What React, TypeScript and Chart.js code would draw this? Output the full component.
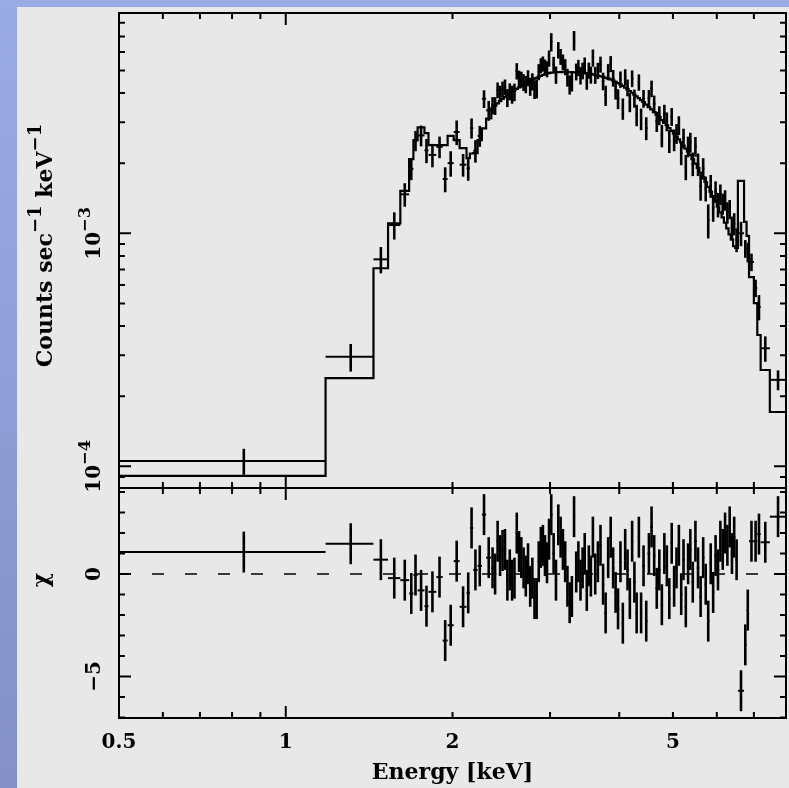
import React, { useEffect, useRef } from 'react';
import { Chart, registerables } from 'chart.js';

Chart.register(...registerables);

// ---------- data ----------
// Energy bin edges [keV]
const binEdges = [
  0.50, 1.18, 1.44, 1.53, 1.61, 1.67, 1.70, 1.73, 1.78, 1.81, 1.87, 1.92, 1.96, 2.01, 2.06, 2.12, 2.15, 2.18, 2.22, 2.26, 2.30, 2.35,
  2.375, 2.400, 2.425, 2.450, 2.475, 2.500, 2.525, 2.550, 2.575, 2.600, 2.625, 2.650, 2.675, 2.700, 2.725, 2.750, 2.775, 2.800, 2.825, 2.850, 2.875, 2.900, 2.925, 2.950, 2.975, 3.000,
  3.03, 3.06, 3.09, 3.12, 3.15, 3.18, 3.21, 3.24, 3.27, 3.30, 3.33, 3.36, 3.39, 3.42, 3.45, 3.48, 3.51, 3.54, 3.57, 3.60,
  3.64, 3.68, 3.72, 3.76, 3.80, 3.84, 3.88, 3.92, 3.96, 4.00, 4.04, 4.08, 4.12, 4.16, 4.20, 4.24, 4.28, 4.32, 4.36, 4.40,
  4.45, 4.50, 4.55, 4.60, 4.65, 4.70, 4.75, 4.80, 4.85, 4.90, 4.95, 5.00, 5.05, 5.10, 5.15, 5.20, 5.25, 5.30, 5.35, 5.40,
  5.46, 5.52, 5.58, 5.64, 5.70, 5.76, 5.82, 5.88, 5.94, 6.00, 6.06, 6.12, 6.18, 6.24, 6.30, 6.36, 6.42,
  6.48, 6.55, 6.72, 6.79, 6.86, 7.00, 7.10, 7.20, 7.48, 8.00,
];

// Count rates, in units of 1e-3 counts sec^-1 keV^-1
const RATE_UNIT = 1e-3;
const rate = [
  0.1054, 0.295, 0.773, 1.085, 1.47, 1.89, 2.50, 2.63, 2.27, 2.17, 2.35, 1.71, 2.00, 2.72, 1.97, 1.90, 2.83, 2.26, 2.62, 3.78, 3.37,
  3.54, 3.53, 4.12, 3.98, 4.15, 4.24, 3.82, 4.06, 3.95, 4.04, 4.97, 4.63, 4.58, 4.45, 4.36, 4.64, 4.27, 4.48, 4.15, 4.18, 4.93, 5.25, 5.34, 5.17, 5.07, 5.64,
  6.63, 5.31, 4.79, 6.12, 5.73, 5.43, 5.18, 4.67, 4.35, 4.47, 6.73, 4.94, 5.14, 4.76, 4.99, 5.27, 4.53, 5.00, 4.79, 5.67,
  4.78, 4.99, 5.31, 4.50, 3.91, 4.93, 5.34, 4.64, 4.13, 3.78, 4.58, 3.43, 4.68, 4.22, 3.66, 4.62, 3.80, 3.22, 4.45, 3.10,
  3.79, 2.83, 3.80, 4.18, 3.59, 3.02, 3.21, 2.63, 3.27, 3.02, 2.49, 3.17, 2.52, 2.68, 2.91, 2.21, 2.56, 1.93, 2.36, 2.46,
  1.99, 2.36, 1.98, 1.59, 1.90, 1.56, 1.14, 1.60, 1.29, 1.51, 1.33, 1.47, 1.34, 1.39, 1.23, 1.27, 1.06,
  1.10, 0.94, 1.00, 0.86, 0.83, 0.753, 0.582, 0.483, 0.321, 0.235,
];
const rateErr = [
  0.0135, 0.040, 0.10, 0.145, 0.17, 0.20, 0.25, 0.27, 0.27, 0.25, 0.25, 0.21, 0.25, 0.33, 0.22, 0.22, 0.28, 0.25, 0.27, 0.33, 0.33,
  0.30, 0.31, 0.32, 0.32, 0.33, 0.33, 0.34, 0.34, 0.35, 0.35, 0.40, 0.36, 0.36, 0.37, 0.37, 0.37, 0.38, 0.38, 0.38, 0.39, 0.39, 0.39, 0.40, 0.40, 0.40, 0.45,
  0.60, 0.41, 0.41, 0.50, 0.45, 0.42, 0.41, 0.41, 0.41, 0.41, 0.65, 0.41, 0.41, 0.41, 0.41, 0.41, 0.40, 0.40, 0.40, 0.48,
  0.40, 0.40, 0.42, 0.39, 0.39, 0.39, 0.42, 0.38, 0.38, 0.37, 0.37, 0.36, 0.38, 0.35, 0.35, 0.38, 0.34, 0.34, 0.36, 0.33,
  0.33, 0.32, 0.32, 0.34, 0.31, 0.30, 0.30, 0.29, 0.29, 0.28, 0.28, 0.28, 0.27, 0.26, 0.27, 0.25, 0.25, 0.24, 0.24, 0.24,
  0.23, 0.23, 0.22, 0.21, 0.20, 0.19, 0.19, 0.18, 0.17, 0.16, 0.16, 0.15, 0.14, 0.14, 0.13, 0.12, 0.12,
  0.12, 0.11, 0.12, 0.075, 0.08, 0.065, 0.05, 0.06, 0.04, 0.023,
];
const model = [
  0.0909, 0.239, 0.708, 1.104, 1.52, 2.08, 2.51, 2.85, 2.69, 2.39, 2.39, 2.39, 2.62, 2.51, 2.32, 2.10, 2.20, 2.21, 2.51, 2.82, 3.11,
  3.45, 3.53, 3.61, 3.69, 3.77, 3.84, 3.92, 3.99, 4.05, 4.11, 4.17, 4.23, 4.29, 4.34, 4.40, 4.45, 4.50, 4.56, 4.61, 4.65, 4.70, 4.74, 4.78, 4.81, 4.85, 4.87,
  4.89, 4.90, 4.91, 4.92, 4.92, 4.93, 4.93, 4.92, 4.92, 4.92, 4.91, 4.90, 4.89, 4.88, 4.87, 4.86, 4.85, 4.84, 4.83, 4.81,
  4.78, 4.75, 4.72, 4.69, 4.65, 4.62, 4.58, 4.53, 4.47, 4.41, 4.36, 4.29, 4.22, 4.15, 4.08, 4.01, 3.94, 3.87, 3.80, 3.73,
  3.66, 3.57, 3.48, 3.40, 3.31, 3.23, 3.15, 3.06, 2.98, 2.91, 2.83, 2.75, 2.68, 2.60, 2.53, 2.46, 2.38, 2.31, 2.24, 2.17,
  2.08, 1.99, 1.91, 1.82, 1.74, 1.66, 1.58, 1.51, 1.44, 1.37, 1.30, 1.23, 1.17, 1.11, 1.05, 0.99, 0.94,
  0.88, 0.865, 1.68, 1.12, 0.975, 0.649, 0.502, 0.366, 0.259, 0.171,
];
// Residuals (data - model) / error
const chi = [
  1.07, 1.48, 0.7, -0.2, -0.3, -0.95, -0.05, -0.8, -1.57, -0.87, -0.15, -3.25, -2.5, 0.63, -1.6, -0.92, 2.25, 0.2, 0.4, 2.9, 0.8,
  0.3, 0.0, 1.6, 0.9, 1.15, 1.2, -0.3, 0.2, -0.3, -0.2, 2.0, 1.1, 0.8, 0.3, -0.1, 0.5, -0.6, -0.2, -1.2, -1.2, 0.6, 1.3, 1.4, 0.9, 0.55, 1.7,
  2.9, 1.0, -0.3, 2.4, 1.8, 1.2, 0.6, -0.6, -1.4, -1.1, 2.8, 0.1, 0.6, -0.3, 0.3, 1.0, -0.8, 0.4, -0.1, 1.8,
  0.0, 0.6, 1.4, -0.5, -1.9, 0.8, 1.8, 0.3, -0.9, -1.7, 0.6, -2.4, 1.2, 0.2, -1.2, 1.6, -0.4, -1.9, 1.8, -1.9,
  0.4, -2.3, 1.0, 2.3, 0.9, -0.7, 0.2, -1.5, 1.0, 0.4, -1.2, 1.5, -0.6, 0.3, 1.4, -1.0, 0.7, -1.6, 0.5, 1.2,
  -0.4, 1.6, 0.3, -1.1, 0.8, -0.5, -2.3, 0.5, -0.9, 0.9, 0.2, 1.6, 1.2, 2.0, 1.4, 2.3, 1.0,
  1.8, 0.7, -5.7, -3.46, -1.76, 1.6, 1.6, 1.95, 1.55, 2.8,
];
const CHI_SIGMA = 1;

// axes
const X_MIN = 0.5, X_MAX = 8.0;
const RATE_MIN = 8.07e-5, RATE_MAX = 8.82e-3;
const CHI_MIN = -7.03, CHI_MAX = 4.2;

const xTickValues = [0.5, 1, 2, 5];
const xTickLabels = ['0.5', '1', '2', '5'];
const rateTickValues = [1e-3, 1e-4];
const rateTickLabels = [['10', '−3'], ['10', '−4']];
const chiTickValues = [0, -5];
const chiTickLabels = ['0', '−5'];
const xTitle = 'Energy [keV]';
const rateTitle = [{ t: 'Counts sec' }, { t: '−1', sup: true }, { t: ' keV' }, { t: '−1', sup: true }];
const chiTitle = [{ t: 'χ' }];

// ---------- drawing helpers ----------
type Part = { t: string; sup?: boolean };
const FONT_FAMILY = '"DejaVu Serif", serif';
const TICK_PX = 20;
const TITLE_PX = 22;

function setFont(ctx: CanvasRenderingContext2D, px: number) {
  ctx.font = `bold ${px}px ${FONT_FAMILY}`;
}
function partsWidth(ctx: CanvasRenderingContext2D, parts: Part[], px: number) {
  let w = 0;
  for (const p of parts) {
    setFont(ctx, p.sup ? px * 0.82 : px);
    w += ctx.measureText(p.t).width;
  }
  return w;
}
function drawParts(ctx: CanvasRenderingContext2D, parts: Part[], px: number, x0: number, baseY: number) {
  let x = x0;
  for (const p of parts) {
    setFont(ctx, p.sup ? px * 0.82 : px);
    ctx.fillText(p.t, x, p.sup ? baseY - px * 0.52 : baseY);
    x += ctx.measureText(p.t).width;
  }
}
function drawVertical(ctx: CanvasRenderingContext2D, parts: Part[], px: number, baseX: number, centerY: number) {
  ctx.save();
  ctx.translate(baseX, centerY);
  ctx.rotate(-Math.PI / 2);
  ctx.textAlign = 'left';
  ctx.textBaseline = 'alphabetic';
  ctx.fillStyle = '#000';
  const w = partsWidth(ctx, parts, px);
  drawParts(ctx, parts, px, -w / 2, 0);
  ctx.restore();
}

const crossPlugin = {
  id: 'crosses',
  afterDatasetsDraw(chart: any) {
    const ds = chart.data.datasets.find((d: any) => d.label === 'data');
    if (!ds) return;
    const xs = chart.scales.x, ys = chart.scales.y;
    const ctx: CanvasRenderingContext2D = chart.ctx;
    const a = chart.chartArea;
    ctx.save();
    ctx.beginPath();
    ctx.rect(a.left, a.top, a.right - a.left, a.bottom - a.top);
    ctx.clip();
    ctx.strokeStyle = '#000';
    ctx.lineCap = 'butt';
    for (const p of ds.data) {
      const x = xs.getPixelForValue(p.x);
      const y = ys.getPixelForValue(p.y);
      ctx.lineWidth = 2;
      ctx.beginPath();
      ctx.moveTo(xs.getPixelForValue(p.xMin), y);
      ctx.lineTo(xs.getPixelForValue(p.xMax), y);
      ctx.stroke();
      ctx.lineWidth = 2.6;
      ctx.beginPath();
      ctx.moveTo(x, ys.getPixelForValue(p.yMin));
      ctx.lineTo(x, ys.getPixelForValue(p.yMax));
      ctx.stroke();
    }
    ctx.restore();
  },
};

function xTickList() {
  const out: { v: number; major: boolean }[] = [];
  for (const n of [-1, 0]) {
    for (let k = 1; k <= 9; k++) {
      const v = k * Math.pow(10, n);
      if (v > X_MIN * 1.001 && v < X_MAX * 0.999) out.push({ v, major: k === 1 });
    }
  }
  return out;
}

function makeFramePlugin(kind: 'top' | 'bottom') {
  return {
    id: 'frame-' + kind,
    beforeDatasetsDraw(chart: any) {
      if (kind !== 'bottom') return;
      const ctx: CanvasRenderingContext2D = chart.ctx;
      const a = chart.chartArea;
      const y = chart.scales.y.getPixelForValue(0);
      ctx.save();
      ctx.setLineDash([12, 21]);
      ctx.lineWidth = 1.5;
      ctx.strokeStyle = '#000';
      ctx.beginPath();
      ctx.moveTo(a.left, y);
      ctx.lineTo(a.right, y);
      ctx.stroke();
      ctx.restore();
    },
    afterDraw(chart: any) {
      const ctx: CanvasRenderingContext2D = chart.ctx;
      const a = chart.chartArea;
      const xs = chart.scales.x, ys = chart.scales.y;
      ctx.save();
      ctx.strokeStyle = '#000';
      ctx.fillStyle = '#000';
      ctx.lineWidth = 2;
      ctx.lineCap = 'butt';
      // frame
      ctx.strokeRect(a.left, a.top, a.right - a.left, a.bottom - a.top);
      // x ticks (inward, top and bottom)
      ctx.beginPath();
      for (const t of xTickList()) {
        const x = xs.getPixelForValue(t.v);
        const len = t.major ? 12 : 6;
        ctx.moveTo(x, a.top); ctx.lineTo(x, a.top + len);
        ctx.moveTo(x, a.bottom); ctx.lineTo(x, a.bottom - len);
      }
      // y ticks
      const yt: { v: number; major: boolean }[] = [];
      if (kind === 'top') {
        for (const n of [-5, -4, -3]) {
          for (let k = 1; k <= 9; k++) {
            const v = k * Math.pow(10, n);
            if (v > RATE_MIN && v < RATE_MAX) yt.push({ v, major: k === 1 });
          }
        }
      } else {
        for (let v = -7; v <= 4; v++) {
          if (v > CHI_MIN && v < CHI_MAX) yt.push({ v, major: v % 5 === 0 });
        }
      }
      for (const t of yt) {
        const y = ys.getPixelForValue(t.v);
        const len = t.major ? 12 : 6;
        ctx.moveTo(a.left, y); ctx.lineTo(a.left + len, y);
        ctx.moveTo(a.right, y); ctx.lineTo(a.right - len, y);
      }
      ctx.stroke();

      // labels
      if (kind === 'top') {
        rateTickValues.forEach((v, i) => {
          const [base, exp] = rateTickLabels[i];
          drawVertical(ctx, [{ t: base }, { t: exp, sup: true }], TICK_PX, 100, ys.getPixelForValue(v));
        });
        drawVertical(ctx, rateTitle, TITLE_PX, 52, (a.top + a.bottom) / 2 - 5);
      } else {
        chiTickValues.forEach((v, i) => {
          drawVertical(ctx, [{ t: chiTickLabels[i] }], TICK_PX, 100, ys.getPixelForValue(v));
        });
        drawVertical(ctx, chiTitle, TITLE_PX, 48, (a.top + a.bottom) / 2 - 23);
        setFont(ctx, TICK_PX);
        ctx.textAlign = 'center';
        ctx.textBaseline = 'middle';
        xTickValues.forEach((v, i) => {
          ctx.fillText(xTickLabels[i], xs.getPixelForValue(v), a.bottom + 25);
        });
        setFont(ctx, TITLE_PX);
        ctx.fillText(xTitle, (a.left + a.right) / 2, a.bottom + 55);
      }
      ctx.restore();
    },
  };
}

function buildModelSteps() {
  const pts = model.map((m, i) => ({ x: binEdges[i], y: m * RATE_UNIT }));
  pts.push({ x: binEdges[binEdges.length - 1], y: model[model.length - 1] * RATE_UNIT });
  return pts;
}
function buildRatePoints() {
  return rate.map((r, i) => ({
    x: (binEdges[i] + binEdges[i + 1]) / 2,
    y: r * RATE_UNIT,
    xMin: binEdges[i],
    xMax: binEdges[i + 1],
    yMin: (r - rateErr[i]) * RATE_UNIT,
    yMax: (r + rateErr[i]) * RATE_UNIT,
  }));
}
function buildChiPoints() {
  return chi.map((c, i) => ({
    x: (binEdges[i] + binEdges[i + 1]) / 2,
    y: c,
    xMin: binEdges[i],
    xMax: binEdges[i + 1],
    yMin: c - CHI_SIGMA,
    yMax: c + CHI_SIGMA,
  }));
}

export default function App() {
  const topRef = useRef<HTMLCanvasElement>(null);
  const botRef = useRef<HTMLCanvasElement>(null);

  useEffect(() => {
    if (!topRef.current || !botRef.current) return;
    const common = {
      responsive: false,
      animation: false as const,
      events: [] as any[],
      plugins: { legend: { display: false }, tooltip: { enabled: false } },
    };
    const top = new Chart(topRef.current, {
      type: 'scatter',
      data: {
        datasets: [
          {
            type: 'line',
            label: 'model',
            data: buildModelSteps(),
            stepped: 'before',
            borderColor: '#000',
            borderWidth: 2.2,
            pointRadius: 0,
            fill: false,
          } as any,
          {
            type: 'scatter',
            label: 'data',
            data: buildRatePoints(),
            pointRadius: 0,
            showLine: false,
          } as any,
        ],
      },
      options: {
        ...common,
        layout: { padding: { left: 119, right: 3, top: 13, bottom: 10 } },
        scales: {
          x: { type: 'logarithmic', min: X_MIN, max: X_MAX, display: false },
          y: { type: 'logarithmic', min: RATE_MIN, max: RATE_MAX, display: false },
        },
      } as any,
      plugins: [makeFramePlugin('top'), crossPlugin],
    });
    const bot = new Chart(botRef.current, {
      type: 'scatter',
      data: {
        datasets: [
          {
            type: 'scatter',
            label: 'data',
            data: buildChiPoints(),
            pointRadius: 0,
            showLine: false,
          } as any,
        ],
      },
      options: {
        ...common,
        layout: { padding: { left: 119, right: 3, top: 10, bottom: 70 } },
        scales: {
          x: { type: 'logarithmic', min: X_MIN, max: X_MAX, display: false },
          y: { type: 'linear', min: CHI_MIN, max: CHI_MAX, display: false },
        },
      } as any,
      plugins: [makeFramePlugin('bottom'), crossPlugin],
    });
    return () => {
      top.destroy();
      bot.destroy();
    };
  }, []);

  return (
    <div
      style={{
        position: 'fixed',
        left: 0,
        top: 0,
        width: 789,
        height: 788,
        overflow: 'hidden',
        background: 'linear-gradient(to bottom, #9babe6, #8490c6)',
      }}
    >
      <div style={{ position: 'absolute', left: 17, top: 7, right: 0, bottom: 0, background: '#e8e8e8' }} />
      <canvas ref={topRef} width={789} height={498} style={{ position: 'absolute', left: 0, top: 0 }} />
      <canvas ref={botRef} width={789} height={310} style={{ position: 'absolute', left: 0, top: 478 }} />
    </div>
  );
}
